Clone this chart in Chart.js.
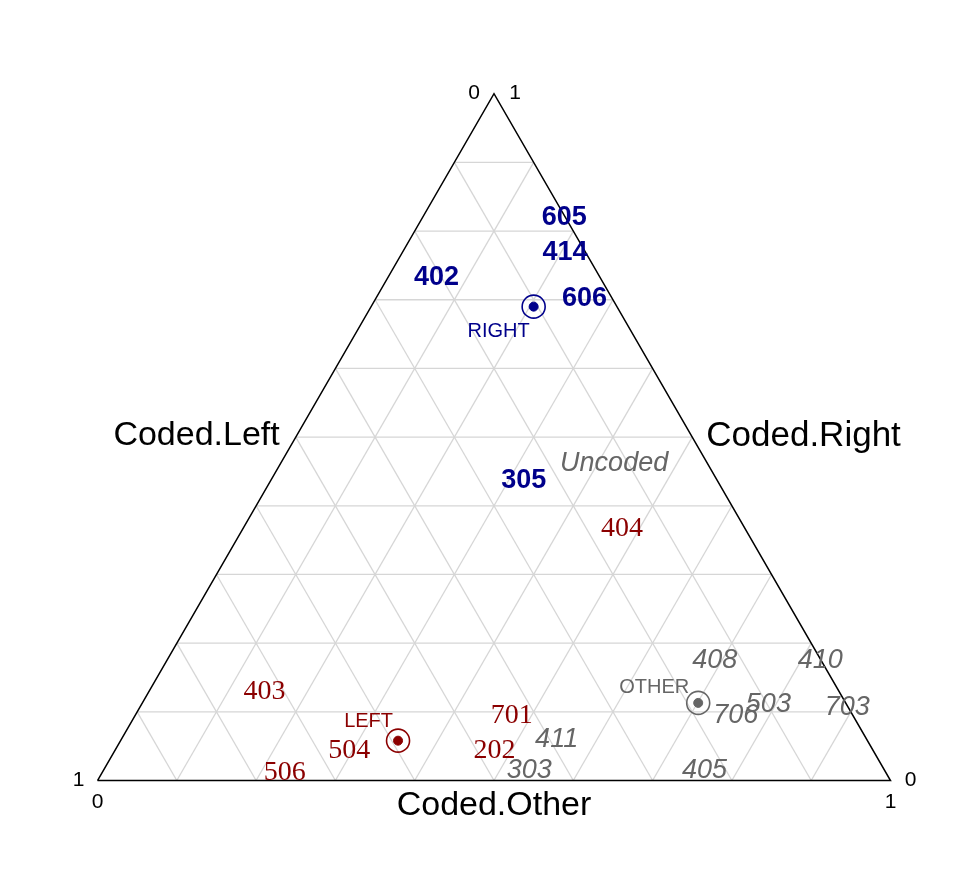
<!DOCTYPE html>
<html>
<head>
<meta charset="utf-8">
<script src="https://cdn.jsdelivr.net/npm/chart.js@4.4.1/dist/chart.umd.min.js"></script>
<style>
  html, body { margin: 0; padding: 0; background: #ffffff; }
  #wrap { width: 968px; height: 869px; }
</style>
</head>
<body>
<div id="wrap"><canvas id="c" width="968" height="869"></canvas></div>
<script>
// ---------------- DATA (ternary proportions: Coded.Left, Coded.Right, Coded.Other) ----------------
const axisTitles = ['Coded.Left', 'Coded.Right', 'Coded.Other'];
const gridTicks = [0.1, 0.2, 0.3, 0.4, 0.5, 0.6, 0.7, 0.8, 0.9];
const endTickLabels = ['0', '1'];

// "Right" group (blue, bold)
const rightLabels = ['605', '414', '606', '402', '305'];
const rightLeft   = [0.000, 0.025, 0.034, 0.205, 0.243];
const rightRight  = [0.823, 0.771, 0.704, 0.735, 0.439];
const rightOther  = [0.177, 0.204, 0.262, 0.060, 0.318];

// "Left" group (dark red, serif)
const leftLabels = ['404', '403', '504', '506', '701', '202'];
const leftLeft   = [0.154, 0.723, 0.659, 0.757, 0.429, 0.476];
const leftRight  = [0.369, 0.133, 0.047, 0.014, 0.097, 0.047];
const leftOther  = [0.477, 0.144, 0.294, 0.229, 0.474, 0.477];

// "Other" group (grey, italic)
const otherLabels = ['411', '303', '408', '410', '706', '503', '703', '405'];
const otherLeft   = [0.390, 0.447, 0.133, 0.000, 0.146, 0.097, 0.000, 0.226];
const otherRight  = [0.062, 0.017, 0.177, 0.177, 0.098, 0.114, 0.109, 0.017];
const otherOther  = [0.548, 0.536, 0.690, 0.823, 0.756, 0.789, 0.891, 0.757];

// Group centroids
const centroidLabels = ['RIGHT', 'LEFT', 'OTHER'];
const centroidLeft   = [0.105, 0.592, 0.186];
const centroidRight  = [0.690, 0.058, 0.113];
const centroidOther  = [0.205, 0.350, 0.701];

// Group annotation
const annotationText = 'Uncoded';
const annotationPos  = [0.116, 0.465, 0.419];

// ---------------- STYLE ----------------
const BLUE = '#00008B', RED = '#8B0000', GREY = '#666666';
const centroidColors = [BLUE, RED, GREY];
const centroidLabelOffsets = [[-4, 23], [-5, -21], [-9, -17]]; // px, right-aligned label
const SANS = '"Liberation Sans", Arial, Helvetica, sans-serif';
const SERIF = '"Liberation Serif", "Times New Roman", serif';
const TEXT_DY = 2; // canvas 'middle' baseline sits slightly above the visual centre of digits/caps

// ternary -> cartesian (Left vertex bottom-left, Right vertex top, Other vertex bottom-right)
const H = Math.sqrt(3) / 2;
function tern(L, R, O) { return { x: O + R / 2, y: R * H }; }

const datasets = [];
// grid lines
gridTicks.forEach(t => {
  datasets.push({ data: [tern(1 - t, t, 0), tern(0, t, 1 - t)] });   // constant Right
  datasets.push({ data: [tern(t, 1 - t, 0), tern(t, 0, 1 - t)] });   // constant Left
  datasets.push({ data: [tern(0, 1 - t, t), tern(1 - t, 0, t)] });   // constant Other
});
datasets.forEach(d => Object.assign(d, {
  showLine: true, borderColor: '#d6d6d6', borderWidth: 1.3, pointRadius: 0, fill: false, order: 10
}));
// triangle border
datasets.push({
  data: [tern(1, 0, 0), tern(0, 1, 0), tern(0, 0, 1), tern(1, 0, 0)],
  showLine: true, borderColor: '#000000', borderWidth: 1.5, pointRadius: 0, fill: false, order: 5
});
// centroid rings and dots
const centroidPts = centroidLabels.map((_, i) => tern(centroidLeft[i], centroidRight[i], centroidOther[i]));
datasets.push({
  data: centroidPts, showLine: false, pointRadius: 11.5, pointBorderWidth: 1.6,
  pointBackgroundColor: 'rgba(255,255,255,0)', pointBorderColor: centroidColors, order: 2
});
datasets.push({
  data: centroidPts, showLine: false, pointRadius: 4.5, pointBorderWidth: 1,
  pointBackgroundColor: centroidColors, pointBorderColor: centroidColors, order: 1
});

const textPlugin = {
  id: 'ternText',
  afterDatasetsDraw(chart) {
    const ctx = chart.ctx, xs = chart.scales.x, ys = chart.scales.y;
    const px = p => [xs.getPixelForValue(p.x), ys.getPixelForValue(p.y)];
    function txt(s, x, y, font, color, align) {
      ctx.save();
      ctx.font = font; ctx.fillStyle = color;
      ctx.textAlign = align || 'center'; ctx.textBaseline = 'middle';
      ctx.fillText(s, x, y + TEXT_DY);
      ctx.restore();
    }
    rightLabels.forEach((s, i) => {
      const [x, y] = px(tern(rightLeft[i], rightRight[i], rightOther[i]));
      txt(s, x, y, 'bold 27px ' + SANS, BLUE);
    });
    leftLabels.forEach((s, i) => {
      const [x, y] = px(tern(leftLeft[i], leftRight[i], leftOther[i]));
      txt(s, x, y, '28px ' + SERIF, RED);
    });
    otherLabels.forEach((s, i) => {
      const [x, y] = px(tern(otherLeft[i], otherRight[i], otherOther[i]));
      txt(s, x, y, 'italic 27px ' + SANS, GREY);
    });
    {
      const [x, y] = px(tern(annotationPos[0], annotationPos[1], annotationPos[2]));
      txt(annotationText, x, y, 'italic 27px ' + SANS, GREY);
    }
    centroidLabels.forEach((s, i) => {
      const [x, y] = px(centroidPts[i]);
      txt(s, x + centroidLabelOffsets[i][0], y + centroidLabelOffsets[i][1], '20px ' + SANS, centroidColors[i], 'right');
    });
    const [lx, ly] = px(tern(1, 0, 0));
    const [rx, ry] = px(tern(0, 1, 0));
    const [ox, oy] = px(tern(0, 0, 1));
    const tf = '21px ' + SANS;
    txt(endTickLabels[0], rx - 20, ry - 3, tf, '#000');
    txt(endTickLabels[1], rx + 21, ry - 3, tf, '#000');
    txt(endTickLabels[1], lx - 19, ly - 2, tf, '#000');
    txt(endTickLabels[0], lx, ly + 20, tf, '#000');
    txt(endTickLabels[0], ox + 20, oy - 2, tf, '#000');
    txt(endTickLabels[1], ox, oy + 20, tf, '#000');
    txt(axisTitles[0], (lx + rx) / 2 - 16, (ly + ry) / 2 - 3, '34px ' + SANS, '#000', 'right');
    txt(axisTitles[1], (ox + rx) / 2 + 14, (oy + ry) / 2 - 3, '35px ' + SANS, '#000', 'left');
    txt(axisTitles[2], (lx + ox) / 2, ly + 23, '34px ' + SANS, '#000');
  }
};

const bgPlugin = {
  id: 'bg',
  beforeDraw(chart) {
    const ctx = chart.ctx;
    ctx.save(); ctx.fillStyle = '#ffffff';
    ctx.fillRect(0, 0, chart.width, chart.height); ctx.restore();
  }
};

new Chart(document.getElementById('c'), {
  type: 'scatter',
  data: { datasets },
  options: {
    responsive: false,
    animation: false,
    devicePixelRatio: 1,
    layout: { padding: 0, autoPadding: false },
    plugins: { legend: { display: false }, tooltip: { enabled: false } },
    scales: {
      x: { type: 'linear', display: false, min: -97.5 / 793, max: (968 - 97.5) / 793 },
      y: { type: 'linear', display: false, min: -(869 - 780.5) / 793, max: 780.5 / 793 }
    },
    elements: { line: { tension: 0 } }
  },
  plugins: [bgPlugin, textPlugin]
});
</script>
</body>
</html>
